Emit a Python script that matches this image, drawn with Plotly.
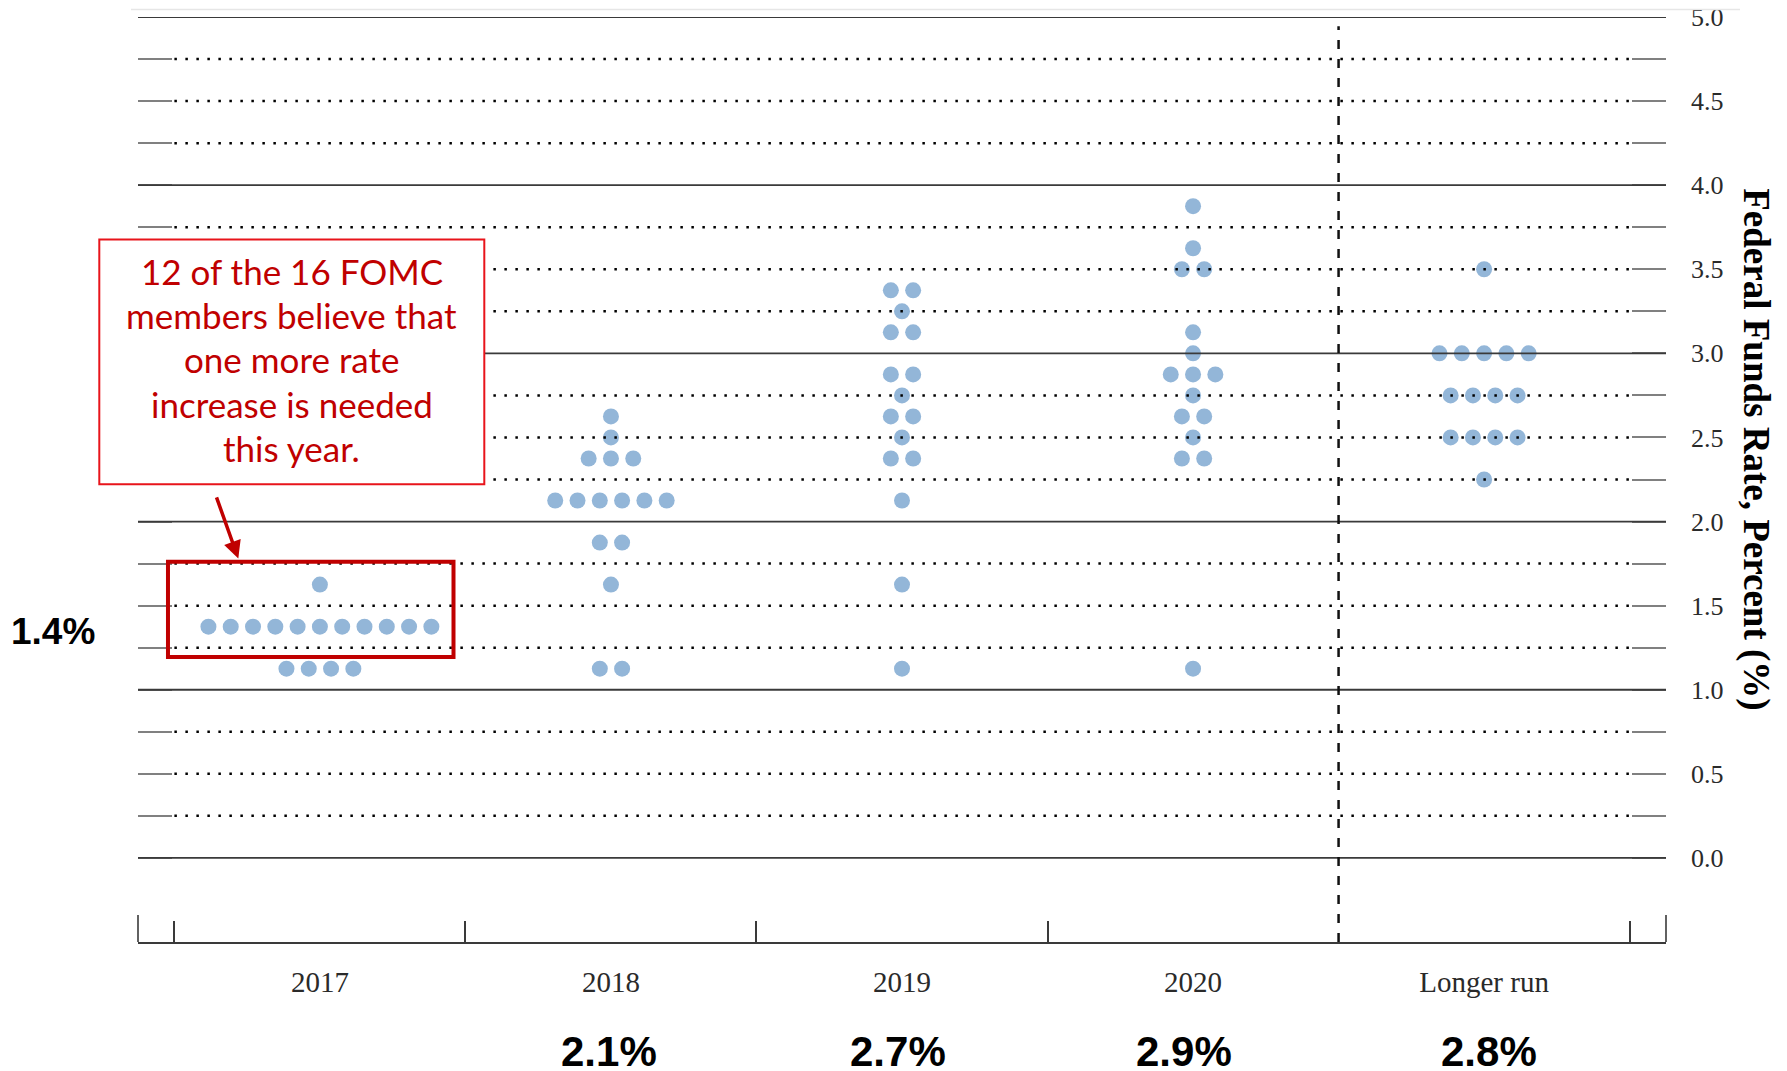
import plotly.graph_objects as go

# ---------------- data ----------------
categories = ["2017", "2018", "2019", "2020", "Longer run"]

rates_2017 = [1.625, 1.375, 1.125]
counts_2017 = [1, 11, 4]

rates_2018 = [2.625, 2.5, 2.375, 2.125, 1.875, 1.625, 1.125]
counts_2018 = [1, 1, 3, 6, 2, 1, 2]

rates_2019 = [3.375, 3.25, 3.125, 2.875, 2.75, 2.625, 2.5, 2.375, 2.125, 1.625, 1.125]
counts_2019 = [2, 1, 2, 2, 1, 2, 1, 2, 1, 1, 1]

rates_2020 = [3.875, 3.625, 3.5, 3.125, 3.0, 2.875, 2.75, 2.625, 2.5, 2.375, 1.125]
counts_2020 = [1, 1, 2, 1, 1, 3, 1, 2, 1, 2, 1]

rates_longer = [3.5, 3.0, 2.75, 2.5, 2.25]
counts_longer = [1, 5, 4, 4, 1]

median_labels = ["1.4%", "2.1%", "2.7%", "2.9%", "2.8%"]

y_label_vals = [0.0, 0.5, 1.0, 1.5, 2.0, 2.5, 3.0, 3.5, 4.0, 4.5, 5.0]
quarter_vals = [0.25, 0.5, 0.75, 1.25, 1.5, 1.75, 2.25, 2.5, 2.75,
                3.25, 3.5, 3.75, 4.25, 4.5, 4.75]
integer_vals = [0, 1, 2, 3, 4, 5]

annotation_lines = ["12 of the 16 FOMC", "members believe that", "one more rate",
                    "increase is needed", "this year."]

# ---------------- style ----------------
OFF = 8  # page body margin
W, H = 1787 - OFF, 1071 - OFF
ML, MR, MT, MB = 130, 121, 8.5, 129
PW, PH = W - ML - MR, H - MT - MB
XR = [-0.625, 4.625]
YR = [-0.5, 5.0]
DOT_STEP = 0.0766
DOT_COLOR = "#93b6d8"
SERIF = "Liberation Serif"
SANS = "Liberation Sans"


def pxx(px):
    return (px - OFF - ML) / PW


def pxy(py):
    return 1 - (py - OFF - MT) / PH


series = [(rates_2017, counts_2017), (rates_2018, counts_2018), (rates_2019, counts_2019),
          (rates_2020, counts_2020), (rates_longer, counts_longer)]

fig = go.Figure()
for i, (rates, counts) in enumerate(series):
    xs, ys = [], []
    for r, n in zip(rates, counts):
        for j in range(n):
            xs.append(i + (j - (n - 1) / 2) * DOT_STEP)
            ys.append(r)
    fig.add_trace(go.Scatter(x=xs, y=ys, mode="markers", name=categories[i],
                             marker=dict(size=16, color=DOT_COLOR, line=dict(width=0)),
                             showlegend=False, hoverinfo="y"))

shapes = []
# faint frame line on top
shapes.append(dict(type="line", xref="paper", yref="paper", x0=pxx(131), x1=pxx(1740),
                   y0=pxy(9), y1=pxy(9), line=dict(color="#e6e6e6", width=1.5)))
# dotted quarter lines
for v in quarter_vals:
    shapes.append(dict(type="line", xref="x", yref="y", x0=-0.5, x1=4.5, y0=v, y1=v,
                       line=dict(color="#000000", width=2.5, dash="2.5px,8.5px"), layer="above"))
# solid integer lines
for v in integer_vals:
    shapes.append(dict(type="line", xref="paper", yref="y", x0=0, x1=1, y0=v, y1=v,
                       line=dict(color="#3a3a3a", width=1.8), layer="above"))
# vertical dashed separator before longer run
shapes.append(dict(type="line", xref="x", yref="y", x0=3.5, x1=3.5, y0=-0.5, y1=4.945,
                   line=dict(color="#111111", width=2.5, dash="9px,10px"), layer="above"))
# end ticks of the x axis
for xp in [0, 1]:
    shapes.append(dict(type="line", xref="paper", yref="paper", x0=xp, x1=xp, y0=0, y1=27 / PH,
                       line=dict(color="#3a3a3a", width=1.6), layer="above"))
# red highlight box around 2017 dots
shapes.append(dict(type="rect", xref="x", yref="y", x0=-0.522, x1=0.459, y0=1.194, y1=1.761,
                   line=dict(color="#c00000", width=4), fillcolor="rgba(0,0,0,0)", layer="above"))
# annotation text box
shapes.append(dict(type="rect", xref="paper", yref="paper", x0=pxx(99.3), x1=pxx(484.3),
                   y0=pxy(484), y1=pxy(239), line=dict(color="#e8141b", width=2),
                   fillcolor="white", layer="above"))

annotations = []
# annotation box text
line_centers_px = [271, 315, 359, 404, 448]
for t, py in zip(annotation_lines, line_centers_px):
    annotations.append(dict(xref="paper", yref="paper", x=pxx(291.8), y=pxy(py), text=t,
                            showarrow=False, xanchor="center", yanchor="middle",
                            font=dict(family="Lato", size=35, color="#c00000")))
# arrow
annotations.append(dict(xref="paper", yref="paper", x=pxx(238.3), y=pxy(558.3),
                        ax=-22.3, ay=-62.6, text="", showarrow=True, arrowhead=2, arrowsize=1,
                        arrowwidth=3.5, arrowcolor="#c00000", standoff=0))
# median labels
annotations.append(dict(xref="paper", yref="paper", x=pxx(53.3), y=pxy(631), text=median_labels[0],
                        showarrow=False, xanchor="center", yanchor="middle",
                        font=dict(family=SANS, size=37, color="black", weight="bold")))
shifts = [-2, -4, -9, 5]
for i, (lab, sh) in enumerate(zip(median_labels[1:], shifts), start=1):
    annotations.append(dict(xref="x", yref="paper", x=i, xshift=sh, y=pxy(1052),
                            text=lab, showarrow=False, xanchor="center", yanchor="middle",
                            font=dict(family=SANS, size=42, color="black", weight="bold")))
# y axis title (rotated clockwise)
annotations.append(dict(xref="paper", yref="paper", x=pxx(1756), y=pxy(449),
                        text="Federal Funds Rate, Percent (%)", textangle=90, showarrow=False,
                        xanchor="center", yanchor="middle",
                        font=dict(family=SERIF, size=37, color="black", weight="bold")))

yvals_all = sorted(set(y_label_vals + quarter_vals))
fig.update_layout(
    width=W, height=H, autosize=False,
    margin=dict(l=ML, r=MR, t=MT, b=MB, pad=0, autoexpand=False),
    plot_bgcolor="white", paper_bgcolor="white",
    shapes=shapes, annotations=annotations,
    xaxis=dict(range=XR, tickmode="array", tickvals=list(range(len(categories))),
               ticktext=categories, ticks="", showgrid=False, zeroline=False,
               showline=True, linecolor="#3a3a3a", linewidth=2, automargin=False,
               tickfont=dict(family=SERIF, size=29, color="#2a2a2a"),
               ticklabelstandoff=13,
               minor=dict(tickmode="array", tickvals=[-0.5, 0.5, 1.5, 2.5, 4.5],
                          ticks="inside", ticklen=21, tickwidth=1.6, tickcolor="#3a3a3a",
                          showgrid=False)),
    yaxis=dict(range=YR, side="right", tickmode="array", tickvals=yvals_all,
               ticktext=[(f"{v:.1f}" if v in y_label_vals else "") for v in yvals_all],
               ticks="inside", ticklen=34, tickwidth=2, tickcolor="#808080",
               mirror="ticks", showline=False, showgrid=False, zeroline=False,
               automargin=False, ticklabeloverflow="allow",
               tickfont=dict(family=SERIF, size=26, color="#2a2a2a"),
               ticklabelstandoff=24),
)

fig.write_html("out.html")
